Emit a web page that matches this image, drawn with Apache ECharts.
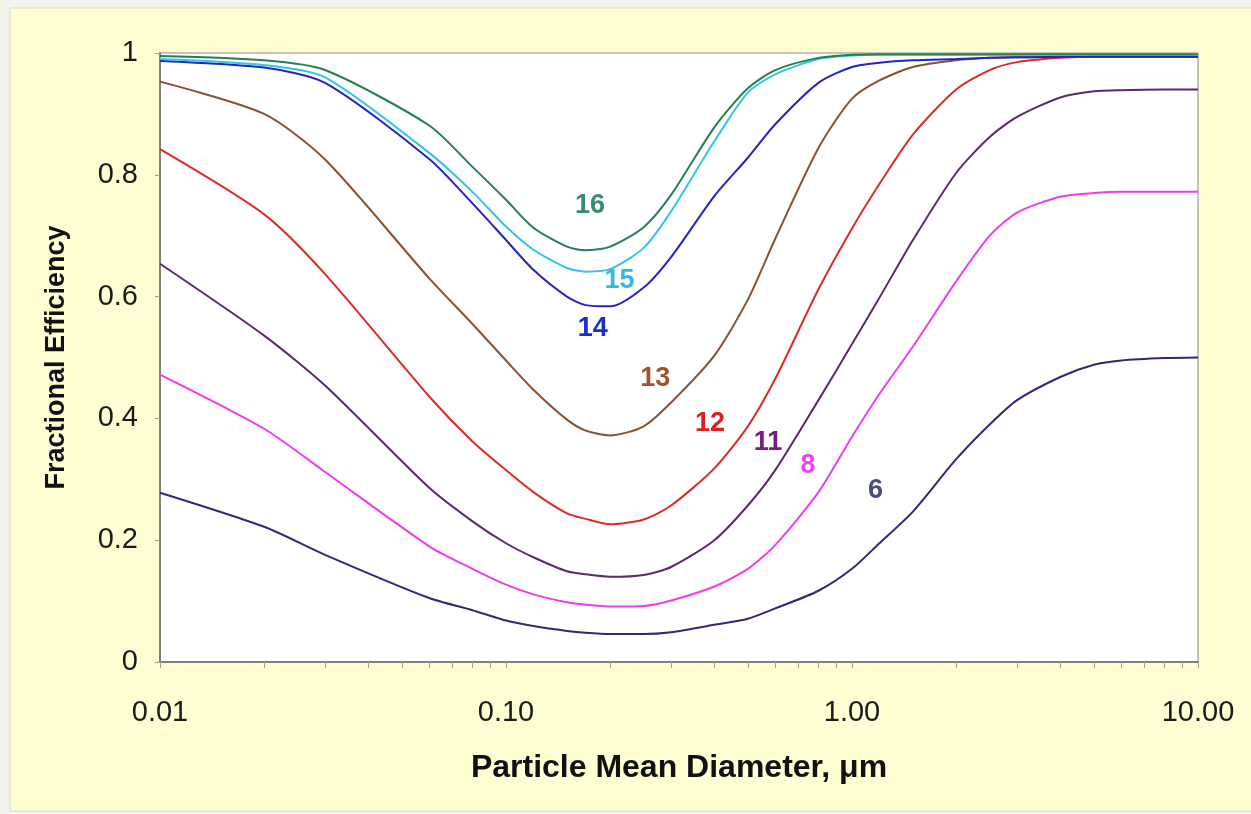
<!DOCTYPE html>
<html>
	<head>
		<meta charset="utf-8">
		<title>Fractional Efficiency</title>
		<script src="https://cdn.jsdelivr.net/npm/echarts@6/dist/echarts.min.js"></script>
		<style>
			html, body { margin: 0; padding: 0; background: #f4f4ee; }
		</style>
	</head>
	<body>
		<div id="box" style="width: 1251px;height: 814px;"></div>
		<script>
			// particle diameter, um
			var diameters = [0.01, 0.02, 0.03, 0.06, 0.08, 0.1, 0.12, 0.15, 0.17, 0.2, 0.25, 0.3, 0.4, 0.5, 0.6, 0.8, 1, 1.2, 1.5, 2, 2.5, 3, 4, 5, 6, 8, 10]

			var eff16 = [0.995, 0.988, 0.972, 0.881, 0.813, 0.759, 0.713, 0.682, 0.676, 0.682, 0.714, 0.767, 0.878, 0.942, 0.972, 0.992, 0.997, 0.998, 0.998, 0.998, 0.998, 0.998, 0.998, 0.998, 0.998, 0.998, 0.998]
			var eff15 = [0.990, 0.980, 0.960, 0.836, 0.772, 0.715, 0.677, 0.647, 0.641, 0.645, 0.680, 0.740, 0.855, 0.935, 0.965, 0.990, 0.996, 0.997, 0.997, 0.997, 0.997, 0.997, 0.997, 0.997, 0.997, 0.997, 0.997]
			var eff14 = [0.987, 0.976, 0.951, 0.826, 0.753, 0.693, 0.644, 0.600, 0.586, 0.584, 0.615, 0.665, 0.765, 0.828, 0.883, 0.951, 0.977, 0.984, 0.988, 0.990, 0.992, 0.993, 0.994, 0.994, 0.994, 0.994, 0.994]
			var eff13 = [0.953, 0.900, 0.825, 0.630, 0.555, 0.495, 0.447, 0.398, 0.380, 0.372, 0.387, 0.426, 0.503, 0.595, 0.695, 0.844, 0.925, 0.955, 0.977, 0.988, 0.992, 0.993, 0.994, 0.994, 0.994, 0.994, 0.994]
			var eff12 = [0.842, 0.735, 0.637, 0.436, 0.362, 0.315, 0.279, 0.244, 0.235, 0.226, 0.234, 0.257, 0.318, 0.387, 0.465, 0.612, 0.712, 0.785, 0.866, 0.940, 0.972, 0.985, 0.992, 0.994, 0.994, 0.994, 0.994]
			var eff11 = [0.654, 0.536, 0.454, 0.286, 0.231, 0.195, 0.172, 0.149, 0.144, 0.140, 0.143, 0.156, 0.200, 0.257, 0.315, 0.430, 0.522, 0.598, 0.693, 0.803, 0.862, 0.895, 0.927, 0.937, 0.939, 0.940, 0.940]
			var eff8 = [0.472, 0.383, 0.312, 0.190, 0.153, 0.127, 0.111, 0.098, 0.094, 0.091, 0.092, 0.101, 0.124, 0.153, 0.192, 0.279, 0.370, 0.440, 0.518, 0.625, 0.700, 0.738, 0.764, 0.770, 0.772, 0.772, 0.772]
			var eff6 = [0.278, 0.222, 0.176, 0.105, 0.085, 0.068, 0.059, 0.051, 0.048, 0.046, 0.046, 0.049, 0.061, 0.071, 0.088, 0.117, 0.153, 0.195, 0.247, 0.333, 0.390, 0.430, 0.468, 0.488, 0.495, 0.499, 0.500]

			var xLabelValues = [0.01, 0.1, 1, 10]
			var xLabelTexts = ['0.01', '0.10', '1.00', '10.00']

			// minor ticks 1..9 of every decade
			var xTickValues = []
			for (var dec = 0.01; dec < 10; dec *= 10) {
				for (var k = 1; k < 10; k++) xTickValues.push(+(dec * k).toPrecision(3))
			}
			xTickValues.push(10)

			var font = 'Liberation Sans, Arial, sans-serif'

			// name, data, line colour, label colour, label spot (data coords)
			var curves = [
				['6', eff6, '#2b2b78', '#4a4a80', [1.17, 0.282]],
				['8', eff8, '#ee3cee', '#ee44ee', [0.746, 0.323]],
				['11', eff11, '#5a2a6a', '#7a1a86', [0.572, 0.361]],
				['12', eff12, '#dd2a2a', '#e02020', [0.389, 0.392]],
				['13', eff13, '#8a5030', '#a0522d', [0.27, 0.466]],
				['14', eff14, '#2424c0', '#1a2ecc', [0.178, 0.548]],
				['15', eff15, '#33c4e8', '#33bbdd', [0.213, 0.627]],
				['16', eff16, '#238050', '#3a8a6e', [0.175, 0.75]]
			]

			var series = curves.map(function (c) {
				return {
					name: c[0],
					type: 'line',
					data: diameters.map(function (d, i) { return [d, c[1][i]] }),
					showSymbol: false,
					smooth: 0.25,
					lineStyle: { color: c[2], width: 2 },
					itemStyle: { color: c[2] },
					markPoint: {
						symbol: 'circle',
						symbolSize: 1,
						itemStyle: { color: 'rgba(0,0,0,0)' },
						label: {
							show: true,
							position: 'inside',
							formatter: c[0],
							color: c[3],
							fontSize: 27,
							fontWeight: 'bold',
							fontFamily: font
						},
						data: [{ coord: c[4] }]
					}
				}
			})

			var mCharts = echarts.init(document.querySelector('#box'))
			var option = {
				backgroundColor: '#f4f4ee',
				animation: false,
				graphic: [{
					type: 'rect',
					z: -10,
					shape: { x: 10, y: 8, width: 1245, height: 803 },
					style: { fill: '#fffed3', stroke: '#d8d8c8', lineWidth: 1 }
				}],
				grid: {
					left: 160,
					right: 53,
					top: 53,
					bottom: 152,
					show: true,
					backgroundColor: '#ffffff',
					borderColor: '#8a8a8a',
					borderWidth: 1
				},
				xAxis: {
					type: 'log',
					logBase: 10,
					min: 0.01,
					max: 10,
					name: 'Particle Mean Diameter, \u03bcm',
					nameLocation: 'middle',
					nameGap: 90,
					nameTextStyle: { fontSize: 32, fontWeight: 'bold', color: '#111', fontFamily: font },
					axisLine: { lineStyle: { color: '#808080', width: 2 } },
					axisTick: { show: true, length: 6, customValues: xTickValues, lineStyle: { color: '#a0a0a0' } },
					axisLabel: {
						customValues: xLabelValues,
						margin: 36,
						fontSize: 29,
						color: '#1a1a1a',
						fontFamily: font,
						formatter: function (v) {
							var i = xLabelValues.indexOf(+v.toPrecision(3))
							return i >= 0 ? xLabelTexts[i] : ''
						}
					},
					splitLine: { show: false }
				},
				yAxis: {
					type: 'value',
					min: 0,
					max: 1,
					interval: 0.2,
					name: 'Fractional Efficiency',
					nameLocation: 'middle',
					nameGap: 90,
					nameTextStyle: { fontSize: 27, fontWeight: 'bold', color: '#111', fontFamily: font },
					axisLine: { show: true, lineStyle: { color: '#808080', width: 2 } },
					axisTick: { show: true, length: 5, lineStyle: { color: '#a0a0a0' } },
					axisLabel: { margin: 22, fontSize: 29, color: '#1a1a1a', fontFamily: font },
					splitLine: { show: false }
				},
				series: series
			}
			mCharts.setOption(option)
		</script>
	</body>
</html>
